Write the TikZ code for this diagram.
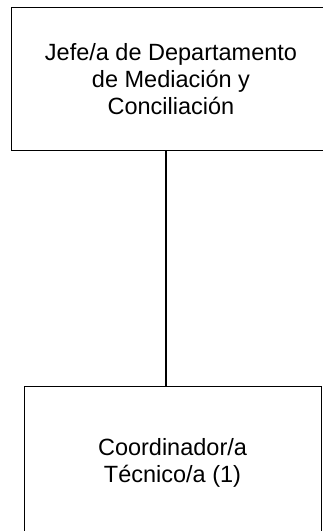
\documentclass[tikz,border=0pt]{standalone}
\usepackage{fontspec}
\setmainfont{Liberation Sans}
\begin{document}
\begin{tikzpicture}[x=1pt,y=-1pt,
  orgbox/.style={draw=black, line width=1pt, align=center, inner sep=0pt,
                 font=\fontsize{23.5}{27}\selectfont},
  link/.style={line width=1.6pt}]
\useasboundingbox (0,0) rectangle (323,531);
% department head
\node[orgbox, minimum width=320pt, minimum height=143.5pt] (jefe) at (171,78.75)
  {Jefe/a de Departamento\\de Mediación y\\Conciliación};
% technical coordinator
\node[orgbox, minimum width=297pt, minimum height=154pt] (coord) at (172.5,463)
  {Coordinador/a\\Técnico/a (1)};
% reporting line
\draw[link] ([xshift=-5pt]jefe.south) -- ([xshift=-5pt]jefe.south |- coord.north);
\end{tikzpicture}
\end{document}
